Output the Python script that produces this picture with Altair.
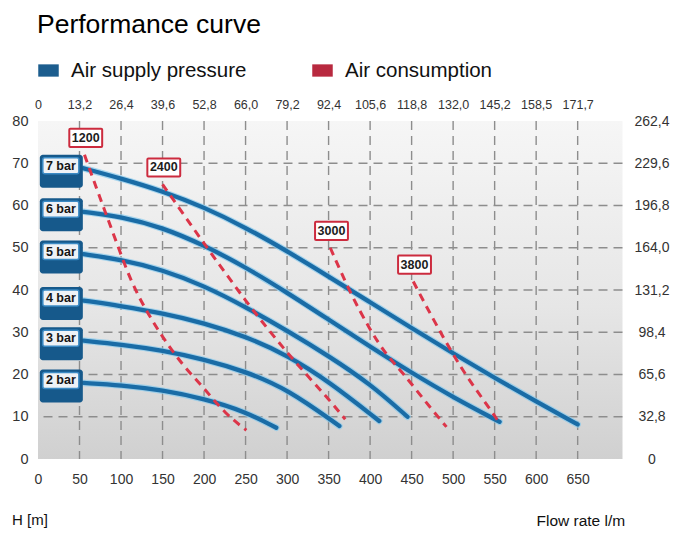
import json
import altair as alt
import pandas as pd

# ---------------- data ----------------
title_text = "Performance curve"
legend_items = ["Air supply pressure", "Air consumption"]
y_title = "H [m]"
x_title = "Flow rate l/m"

x_ticks = [0, 50, 100, 150, 200, 250, 300, 350, 400, 450, 500, 550, 600, 650]
y_ticks = [0, 10, 20, 30, 40, 50, 60, 70, 80]
top_labels = ["0", "13,2", "26,4", "39,6", "52,8", "66,0", "79,2", "92,4",
              "105,6", "118,8", "132,0", "145,2", "158,5", "171,7"]
right_labels = ["0", "32,8", "65,6", "98,4", "131,2", "164,0", "196,8", "229,6", "262,4"]
grid_x = [50, 100, 150, 200, 250, 300, 350, 400, 450, 500, 550, 600, 650]
grid_y = [10, 20, 30, 40, 50, 60, 70]

bar_names = ["7 bar", "6 bar", "5 bar", "4 bar", "3 bar", "2 bar"]
bar7_x = [55, 100, 150, 200, 250, 300, 350, 400, 450, 500, 550, 600, 650]
bar7_y = [68.8, 66.4, 63.4, 59.6, 54.8, 49.2, 43.2, 37.1, 31.0, 25.0, 19.2, 13.6, 8.2]
bar6_x = [55, 100, 150, 200, 250, 300, 350, 400, 450, 500, 556]
bar6_y = [58.5, 57.4, 54.8, 50.6, 45.4, 39.4, 33.0, 26.6, 20.4, 14.6, 8.8]
bar5_x = [55, 100, 150, 200, 250, 300, 350, 400, 445]
bar5_y = [48.5, 47.2, 44.8, 41.0, 36.0, 30.4, 24.4, 17.8, 10.0]
bar4_x = [55, 100, 150, 200, 250, 300, 350, 411]
bar4_y = [37.5, 36.2, 34.5, 32.2, 29.0, 24.6, 18.4, 9.0]
bar3_x = [55, 100, 150, 200, 250, 300, 363]
bar3_y = [28.0, 27.1, 25.7, 23.6, 20.7, 16.6, 7.8]
bar2_x = [55, 100, 150, 200, 250, 287]
bar2_y = [18.0, 17.5, 16.3, 14.3, 11.2, 7.4]

cons_names = ["1200", "2400", "3000", "3800"]
c1200_x = [56, 66, 80, 96, 112, 130, 150, 175, 200, 225, 251]
c1200_y = [72.0, 66.5, 59.0, 50.5, 42.0, 35.2, 28.8, 22.0, 16.8, 10.8, 6.8]
c2400_x = [150, 175, 200, 225, 250, 275, 300, 325, 350, 370]
c2400_y = [65.0, 58.0, 51.0, 44.2, 37.5, 31.2, 25.2, 19.6, 14.2, 9.4]
c3000_x = [352, 376, 400, 420, 440, 468, 492]
c3000_y = [50.0, 39.3, 30.5, 24.5, 20.3, 13.2, 7.6]
c3800_x = [452, 468, 492, 516, 548, 553]
c3800_y = [42.0, 36.0, 27.4, 19.5, 10.9, 9.3]

# ---------------- tables built from the lists ----------------
bar_xs = [bar7_x, bar6_x, bar5_x, bar4_x, bar3_x, bar2_x]
bar_ys = [bar7_y, bar6_y, bar5_y, bar4_y, bar3_y, bar2_y]
cons_xs = [c1200_x, c2400_x, c3000_x, c3800_x]
cons_ys = [c1200_y, c2400_y, c3000_y, c3800_y]

rows = []
for name, xs, ys in zip(bar_names, bar_xs, bar_ys):
    for i, (a, b) in enumerate(zip(xs, ys)):
        rows.append({"series": name, "i": i, "x": a, "y": b})
pressure_df = pd.DataFrame(rows)
bar_lab_df = pd.DataFrame({"series": bar_names,
                           "x0": [xs[0] for xs in bar_xs],
                           "y0": [ys[0] for ys in bar_ys]})

rows = []
for name, xs, ys in zip(cons_names, cons_xs, cons_ys):
    for i, (a, b) in enumerate(zip(xs, ys)):
        rows.append({"series": name, "i": i, "x": a, "y": b})
cons_df = pd.DataFrame(rows)
cons_lab_df = pd.DataFrame({"series": cons_names,
                            "x0": [xs[0] for xs in cons_xs],
                            "y0": [ys[0] for ys in cons_ys]})

X_MAX = 704
xs_ = alt.Scale(domain=[0, X_MAX], nice=False, zero=False)
ys_ = alt.Scale(domain=[0, 80], nice=False, zero=False)
FONT = "Liberation Sans"

def X(f, axis=None):
    return alt.X(f, type="quantitative", scale=xs_, axis=axis)

def Y(f, axis=None):
    return alt.Y(f, type="quantitative", scale=ys_, axis=axis)

W, H = 584.5, 338

# background panel with vertical gradient; carries bottom and left axes
bg_df = pd.DataFrame({"a": [0], "b": [X_MAX], "c": [0], "d": [80]})
bg = alt.Chart(bg_df).mark_rect(
    fill={"gradient": "linear", "x1": 0, "y1": 0, "x2": 0, "y2": 1,
          "stops": [{"offset": 0, "color": "#f6f6f6"},
                    {"offset": 0.55, "color": "#e6e6e6"},
                    {"offset": 1, "color": "#d0d0d0"}]}
).encode(
    x=X("a", alt.Axis(values=x_ticks, title=None, ticks=False, domain=False, grid=False,
                      labelFont=FONT, labelFontSize=14, labelColor="#333",
                      labelPadding=13, labelFlush=False, labelOverlap=False)),
    x2="b",
    y=Y("c", alt.Axis(values=y_ticks, title=None, ticks=False, domain=False, grid=False,
                      labelFont=FONT, labelFontSize=14.5, labelColor="#333",
                      labelPadding=10, labelFlush=False, labelOverlap=False)),
    y2="d",
)

top_expr = json.dumps(top_labels) + "[round(datum.value / 50)]"
right_expr = json.dumps(right_labels) + "[round(datum.value / 10)]"

gx = alt.Chart(pd.DataFrame({"g": grid_x})).mark_rule(
    color="#8d8d8d", strokeWidth=1.4, strokeDash=[9, 6]
).encode(
    x=X("g", alt.Axis(orient="top", values=x_ticks, labelExpr=top_expr, title=None,
                      ticks=False, domain=False, grid=False, labelFont=FONT,
                      labelFontSize=12.5, labelColor="#333", labelPadding=10,
                      labelFlush=False, labelOverlap=False))
)
gy = alt.Chart(pd.DataFrame({"g": grid_y})).mark_rule(
    color="#8d8d8d", strokeWidth=1.4, strokeDash=[9, 6]
).encode(
    y=Y("g", alt.Axis(orient="right", values=y_ticks, labelExpr=right_expr, title=None,
                      ticks=False, domain=False, grid=False, labelFont=FONT,
                      labelFontSize=14, labelColor="#333", labelPadding=29,
                      labelAlign="center", labelFlush=False, labelOverlap=False))
)

blue_glow = alt.Chart(pressure_df).mark_line(
    color="#86c9ec", strokeWidth=6.5, interpolate="basis", strokeCap="round", opacity=0.7
).encode(x=X("x"), y=Y("y"), detail="series:N", order="i:Q")

blue_lines = alt.Chart(pressure_df).mark_line(
    color="#1a6ca6", strokeWidth=4.3, interpolate="basis", strokeCap="round"
).encode(x=X("x"), y=Y("y"), detail="series:N", order="i:Q")

red_lines = alt.Chart(cons_df).mark_line(
    color="#dc3549", strokeWidth=3, strokeDash=[8, 6], interpolate="basis"
).encode(x=X("x"), y=Y("y"), detail="series:N", order="i:Q")

# blue 3D label boxes
bl = alt.Chart(bar_lab_df).transform_calculate(
    lx="datum.x0 - 27.5", ly="datum.y0 + 0.6"
)
dark = bl.transform_calculate(
    a="datum.lx - 25.3", b="datum.lx + 26.5", c="datum.ly - 5.2", d="datum.ly + 2.6"
).mark_rect(fill="#16598b", cornerRadius=3).encode(x=X("a:Q"), x2="b:Q", y=Y("c:Q"), y2="d:Q")
face = bl.transform_calculate(
    a="datum.lx - 21.7", b="datum.lx + 21.7", c="datum.ly - 1.9", d="datum.ly + 1.9"
).mark_rect(fill="#eef2f6", stroke="#3b8ac4", strokeWidth=1.5, cornerRadius=2).encode(
    x=X("a:Q"), x2="b:Q", y=Y("c:Q"), y2="d:Q")
btxt = bl.mark_text(font=FONT, fontSize=12.5, fontWeight="bold", color="#151515",
                    align="center", baseline="middle").encode(
    x=X("lx:Q"), y=Y("ly:Q"), text="series:N")

# red label boxes
rl = alt.Chart(cons_lab_df).transform_calculate(
    lx="datum.x0 + 1.5", ly="datum.y0 + 4.0"
)
rbox = rl.transform_calculate(
    a="datum.lx - 19.8", b="datum.lx + 19.8", c="datum.ly - 2.15", d="datum.ly + 2.15"
).mark_rect(fill="#ffffff", stroke="#cc2b3e", strokeWidth=2, cornerRadius=1).encode(
    x=X("a:Q"), x2="b:Q", y=Y("c:Q"), y2="d:Q")
rtxt = rl.mark_text(font=FONT, fontSize=12.5, fontWeight="bold", color="#1d1d1d",
                    align="center", baseline="middle").encode(
    x=X("lx:Q"), y=Y("ly:Q"), text="series:N")

# legend (real Vega-Lite legend driven by a colour scale)
leg = alt.Chart(pd.DataFrame({"item": legend_items})).mark_rect().encode(
    x=alt.value(0), x2=alt.value(0), y=alt.value(0), y2=alt.value(0),
    color=alt.Color("item:N",
                    scale=alt.Scale(domain=legend_items, range=["#1c5d8e", "#b8293f"]),
                    legend=alt.Legend(title=None, orient="none", legendX=0, legendY=-61,
                                      direction="horizontal",
                                      symbolType="M-1,-0.6H1V0.6H-1Z", symbolSize=420,
                                      symbolStrokeWidth=0, symbolOpacity=1,
                                      labelFont=FONT, labelFontSize=20.5,
                                      labelColor="#111", labelOffset=12,
                                      columnPadding=65, labelLimit=400))
)

title = alt.Chart(pd.DataFrame({"t": [title_text]})).mark_text(
    font=FONT, fontSize=26.5, color="#000", align="left", baseline="alphabetic"
).encode(x=alt.value(-1), y=alt.value(-88), text="t:N")
ht = alt.Chart(pd.DataFrame({"t": [y_title]})).mark_text(
    font=FONT, fontSize=15, color="#111", align="left", baseline="alphabetic"
).encode(x=alt.value(-26), y=alt.value(404), text="t:N")
ft = alt.Chart(pd.DataFrame({"t": [x_title]})).mark_text(
    font=FONT, fontSize=15.5, color="#111", align="left", baseline="alphabetic"
).encode(x=alt.value(498.5), y=alt.value(405), text="t:N")

chart = alt.layer(
    bg, gx, gy, blue_glow, blue_lines, red_lines, dark, face, btxt, rbox, rtxt, leg,
    title, ht, ft
).resolve_axis(x="independent", y="independent").properties(
    width=W, height=H,
    autosize=alt.AutoSizeParams(type="none"),
    padding={"left": 38, "top": 121, "right": 692 - 38 - W, "bottom": 546 - 121 - H},
    background="#ffffff",
).configure_view(stroke=None)

chart.save("out.html", embed_options={"renderer": "svg", "actions": False})
